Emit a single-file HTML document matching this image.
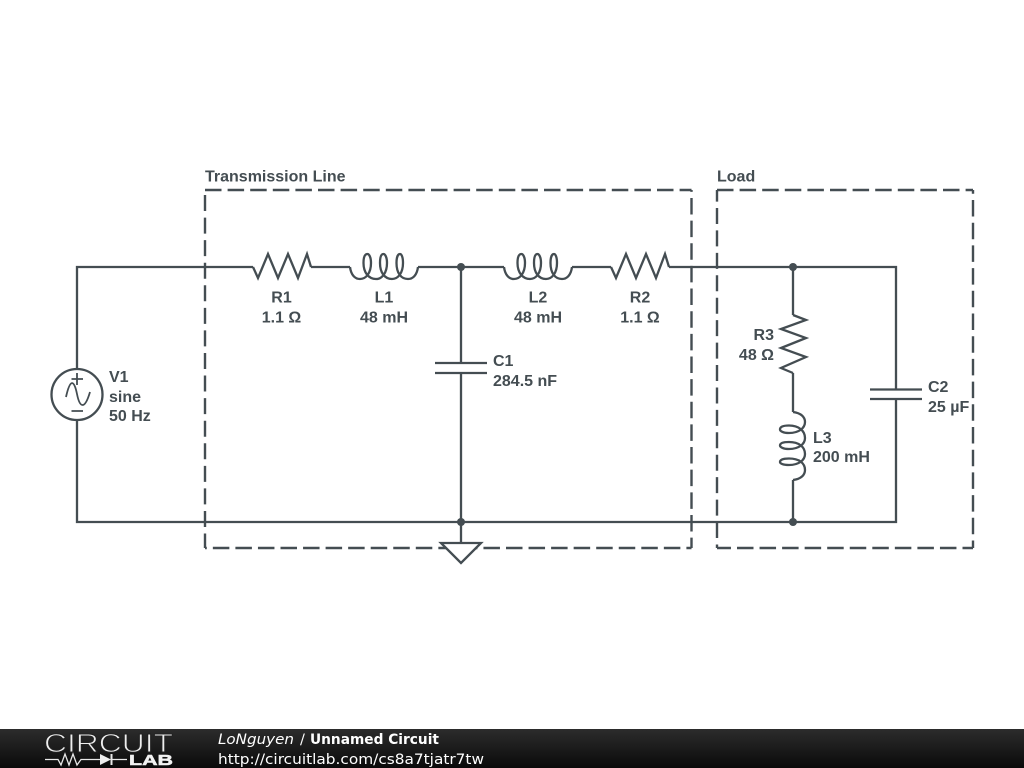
<!DOCTYPE html>
<html><head><meta charset="utf-8">
<style>
html,body{margin:0;padding:0;background:#fff;width:1024px;height:768px;overflow:hidden}
svg{display:block;position:absolute;left:0;top:0}
.l{font-family:"Liberation Sans",sans-serif;font-weight:bold;font-size:16px;fill:#444d52}
.f{font-family:"DejaVu Sans",sans-serif;font-size:14.5px;fill:#fff}
</style></head>
<body>
<svg width="1024" height="768" viewBox="0 0 1024 768" xmlns="http://www.w3.org/2000/svg">
<defs>
<linearGradient id="g" x1="0" y1="0" x2="0" y2="1"><stop offset="0" stop-color="#2c2c2c"/><stop offset="1" stop-color="#0a0a0a"/></linearGradient>
<path id="ind" d="M0 0C1 8 5 12 10 12C16 12 21 6 21 -4C21 -10 19 -13 17.500 -13C15 -13 13.500 -10 13.500 -4C13.500 6 19 12 26 12C32 12 37 6 37 -4C37 -10 35 -13 33.500 -13C31 -13 30 -10 30 -4C30 6 35 12 42 12C48 12 53 6 53 -4C53 -10 51.500 -13 50 -13C48 -13 46.500 -10 46.500 -4C46.500 6 51 12 58 12C63 12 67 8 68 0"/>
<path id="res" d="M0 0L5 11L15 -13L25 11L35 -13L45 11L54 -13L58 0"/>
</defs>
<rect width="1024" height="768" fill="#fff"/>
<g fill="none" stroke="#444d52" stroke-width="2.400">
<path d="M205 190H691.500" stroke-dasharray="16.500 6.100"/>
<path d="M205 195V548" stroke-dasharray="16 6.570"/>
<path d="M205 548H691.500" stroke-dasharray="16.500 6.050" stroke-dashoffset="14.700"/>
<path d="M691.500 190V548" stroke-dasharray="16.500 6.140" stroke-dashoffset="14.640"/>
<path d="M717 190H973" stroke-dasharray="16.500 6.100"/>
<path d="M973 190V548" stroke-dasharray="16.500 6.200" stroke-dashoffset="12.700"/>
<path d="M717 548H973" stroke-dasharray="16.500 6.050" stroke-dashoffset="2.550"/>
<path d="M717 190V548" stroke-dasharray="16 6.430" stroke-dashoffset="4.430"/>
</g>
<g fill="none" stroke="#444d52" stroke-width="2.300">
<path d="M77 370V267H253M311 267H350M418 267H504M572 267H611M669 267H896V389M896 399V522H77V420"/>
<path d="M461 267V363M461 373V543M793 267V315M793 373V412M793 480V522"/>
<path d="M435 363H487M435 373H487M870 389.500H922M870 399H922"/>
<use href="#res" x="253" y="267"/>
<use href="#res" x="611" y="267"/>
<use href="#ind" x="350" y="267"/>
<use href="#ind" x="504" y="267"/>
<use href="#ind" transform="matrix(0 1 1 0 793 412)"/>
<polyline points="793,315 806,320 781,329 806,338 781,348 806,357 781,368 793,373"/>
<circle cx="77" cy="394.500" r="25.500" fill="#fff"/>
<path d="M77 373V385M71.500 379H83M71.500 411H83M66 397C70 379 74 379 77 394C80 409 85 409 90 392" stroke-width="1.800"/>
<path d="M441 543H481L461 563Z" fill="#fff"/>
</g>
<g fill="#444d52">
<circle cx="461" cy="267" r="4"/><circle cx="793" cy="267" r="4"/>
<circle cx="461" cy="522" r="4"/><circle cx="793" cy="522" r="4"/>
</g>
<g class="l">
<text x="205" y="181.500">Transmission Line</text>
<text x="717" y="181.500">Load</text>
<g text-anchor="middle">
<text x="281.500" y="302.500">R1</text><text x="281.500" y="322.500">1.1 Ω</text>
<text x="384" y="302.500">L1</text><text x="384" y="322.500">48 mH</text>
<text x="538" y="302.500">L2</text><text x="538" y="322.500">48 mH</text>
<text x="640" y="302.500">R2</text><text x="640" y="322.500">1.1 Ω</text>
</g>
<g text-anchor="end">
<text x="774" y="340">R3</text><text x="774" y="360">48 Ω</text>
</g>
<text x="109" y="382">V1</text><text x="109" y="402">sine</text><text x="109" y="421">50 Hz</text>
<text x="493" y="366">C1</text><text x="493" y="386">284.5 nF</text>
<text x="928" y="392">C2</text><text x="928" y="412">25 µF</text>
<text x="813" y="443">L3</text><text x="813" y="462">200 mH</text>
</g>
<rect x="0" y="729" width="1024" height="39" fill="url(#g)"/>
<text x="44" y="752" textLength="129" lengthAdjust="spacingAndGlyphs" style="font-family:'Liberation Sans',sans-serif;font-size:26px;fill:#eeeeee;stroke:#222;stroke-width:0.900;font-weight:normal">CIRCUIT</text>
<g fill="none" stroke="#e8e8e8" stroke-width="1.300">
<path d="M45 759.500H58L61 765L65 754L69 765L73 754L77 765L81 759.500H100M112 759.500H127"/>
<path d="M111.500 754V765" stroke-width="2"/>
</g>
<path d="M100 754L111 759.500L100 765Z" fill="#eee"/>
<text x="129" y="765" textLength="44" lengthAdjust="spacingAndGlyphs" style="font-family:'Liberation Sans',sans-serif;font-size:14.500px;font-weight:bold;fill:#f2f2f2;stroke:#f2f2f2;stroke-width:0.500">LAB</text>
<text class="f" x="218" y="744" font-style="italic" textLength="76" lengthAdjust="spacingAndGlyphs">LoNguyen</text>
<text class="f" x="300" y="744">/</text>
<text class="f" x="310" y="744" font-weight="bold" textLength="129" lengthAdjust="spacingAndGlyphs">Unnamed Circuit</text>
<text class="f" x="218" y="764" textLength="266" lengthAdjust="spacingAndGlyphs">http://circuitlab.com/cs8a7tjatr7tw</text>
</svg>
</body></html>
